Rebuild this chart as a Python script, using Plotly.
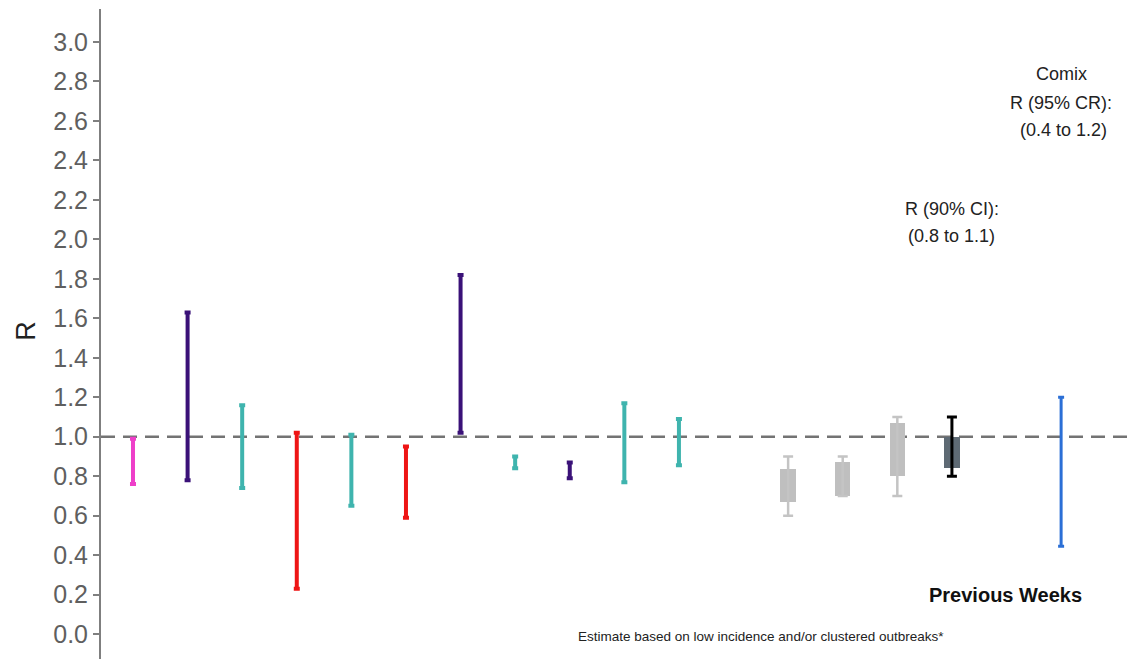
import plotly.graph_objects as go

# ---------------- data ----------------
# current estimates (90% CI) by region, in display order
est_pos = [1, 2, 3, 4, 5, 6, 7, 8, 9, 10, 11]
est_low = [0.76, 0.78, 0.74, 0.23, 0.65, 0.59, 1.02, 0.84, 0.79, 0.77, 0.855]
est_high = [0.99, 1.63, 1.16, 1.02, 1.01, 0.95, 1.82, 0.90, 0.87, 1.17, 1.09]
est_group = ["pink", "purple", "teal", "red", "teal", "red", "purple", "teal", "purple", "teal", "teal"]

# previous weeks (boxes with whiskers)
prev_pos = [13, 14, 15, 16]
prev_whisk_low = [0.60, 0.70, 0.70, 0.80]
prev_box_low = [0.67, 0.70, 0.80, 0.84]
prev_box_high = [0.835, 0.87, 1.07, 1.00]
prev_whisk_high = [0.90, 0.90, 1.10, 1.10]
prev_is_current = [False, False, False, True]

# Comix estimate (95% CR)
comix_pos = [18]
comix_low = [0.445]
comix_high = [1.20]

y_ticks = [0.0, 0.2, 0.4, 0.6, 0.8, 1.0, 1.2, 1.4, 1.6, 1.8, 2.0, 2.2, 2.4, 2.6, 2.8, 3.0]

# ---------------- styles ----------------
group_colors = {
    "pink": "#ee3fc9",
    "purple": "#3a1178",
    "teal": "#3fb4ae",
    "red": "#ee1515",
}
FONT = "Liberation Sans, Arial, sans-serif"

fig = go.Figure()

# previous-week boxes (bars are drawn beneath scatter layer)
box_colors = ["#5e6a74" if c else "#bfbfbf" for c in prev_is_current]
fig.add_trace(go.Bar(
    x=prev_pos,
    base=prev_box_low,
    y=[h - l for h, l in zip(prev_box_high, prev_box_low)],
    width=0.28,
    marker=dict(color=box_colors, line=dict(width=0)),
    showlegend=False,
    hoverinfo="skip",
))

# previous-week whiskers
for cur in [False, True]:
    xs, mids, half = [], [], []
    for p, lo, hi, c in zip(prev_pos, prev_whisk_low, prev_whisk_high, prev_is_current):
        if c == cur:
            xs.append(p)
            mids.append((lo + hi) / 2)
            half.append((hi - lo) / 2)
    fig.add_trace(go.Scatter(
        x=xs, y=mids, mode="markers",
        marker=dict(size=1, opacity=0),
        error_y=dict(type="data", array=half, symmetric=True,
                     color="#000000" if cur else "#c4c4c4",
                     thickness=3 if cur else 2.5, width=5),
        showlegend=False, hoverinfo="skip",
    ))

# current estimates by colour group
for g, col in group_colors.items():
    xs, mids, half = [], [], []
    for p, lo, hi, gg in zip(est_pos, est_low, est_high, est_group):
        if gg == g:
            xs.append(p)
            mids.append((lo + hi) / 2)
            half.append((hi - lo) / 2)
    fig.add_trace(go.Scatter(
        x=xs, y=mids, mode="markers",
        marker=dict(size=1, opacity=0),
        error_y=dict(type="data", array=half, symmetric=True,
                     color=col, thickness=4, width=3),
        showlegend=False, hoverinfo="skip",
    ))

# Comix
fig.add_trace(go.Scatter(
    x=comix_pos,
    y=[(lo + hi) / 2 for lo, hi in zip(comix_low, comix_high)],
    mode="markers", marker=dict(size=1, opacity=0),
    error_y=dict(type="data",
                 array=[(hi - lo) / 2 for lo, hi in zip(comix_low, comix_high)],
                 symmetric=True, color="#2b6fd6", thickness=3, width=3),
    showlegend=False, hoverinfo="skip",
))

# reference line at R = 1
fig.add_shape(type="line", xref="paper", x0=0, x1=1, yref="y", y0=1.0, y1=1.0,
              line=dict(color="#737373", width=2.5, dash="14px,8px"), layer="below")

# annotations
def ann(text, x, y, size, bold=False, color="#222222"):
    fig.add_annotation(
        text=f"<b>{text}</b>" if bold else text,
        x=x, y=y, xref="x", yref="y", showarrow=False,
        xanchor="center", yanchor="middle",
        font=dict(family=FONT, size=size, color=color),
    )

ann("Comix", 18.0, 2.838, 18)
ann("R (95% CR):", 18.0, 2.691, 18)
ann("(0.4 to 1.2)", 18.05, 2.554, 18)
ann("R (90% CI):", 16.0, 2.155, 18)
ann("(0.8 to 1.1)", 16.0, 2.018, 18)
ann("Previous Weeks", 16.99, 0.20, 20, bold=True, color="#111111")
ann("Estimate based on low incidence and/or clustered outbreaks*", 12.5, -0.01, 13.5)

# y-axis title as annotation for precise placement
fig.add_annotation(
    text="R", xref="paper", yref="paper", x=-0.072, y=0.505,
    showarrow=False, textangle=-90, xanchor="center", yanchor="middle",
    font=dict(family=FONT, size=27, color="#222222"),
)

fig.update_layout(
    width=1135, height=651,
    margin=dict(l=93, r=0, t=1, b=0),
    paper_bgcolor="white", plot_bgcolor="white",
    font=dict(family=FONT),
    xaxis=dict(visible=False, range=[0.414, 19.50]),
    yaxis=dict(
        range=[-0.126, 3.167],
        tickvals=y_ticks,
        ticktext=[f"{v:.1f}" for v in y_ticks],
        showgrid=False, zeroline=False,
        showline=True, linecolor="#7f7f7f", linewidth=2,
        ticks="outside", ticklen=6, tickwidth=1.5, tickcolor="#7f7f7f",
        tickfont=dict(family=FONT, size=25, color="#5f5f5f"),
    ),
    bargap=0,
)

fig.write_html("out.html")
